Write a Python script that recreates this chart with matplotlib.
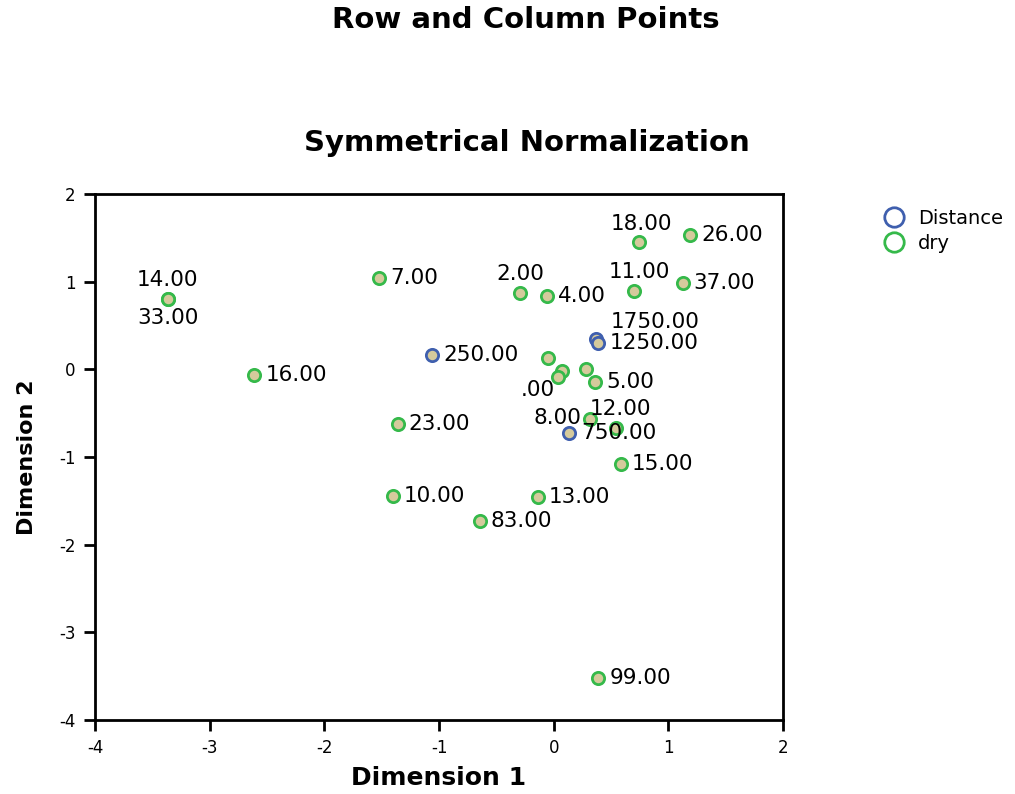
import matplotlib
matplotlib.use("Agg")
import matplotlib.pyplot as plt
from matplotlib.lines import Line2D

plt.rcParams["axes.unicode_minus"] = False

# row points (Distance)
dist_labels = ["250.00", "1750.00", "1250.00", "750.00"]
dist_x = [-1.06, 0.37, 0.39, 0.13]
dist_y = [0.16, 0.35, 0.30, -0.73]

# column points (dry)
dry_labels = ["14.00", "33.00", "7.00", "16.00", "23.00", "10.00", "83.00",
              "13.00", "2.00", "4.00", "18.00", "26.00", "11.00", "37.00",
              "", "", "", ".00", "5.00", "8.00", "12.00", "15.00", "99.00"]
dry_x = [-3.365, -3.365, -1.525, -2.61, -1.36, -1.40, -0.645,
         -0.14, -0.29, -0.06, 0.74, 1.19, 0.70, 1.125,
         -0.05, 0.07, 0.28, 0.035, 0.36, 0.32, 0.54, 0.585, 0.39]
dry_y = [0.80, 0.80, 1.04, -0.07, -0.62, -1.44, -1.73,
         -1.46, 0.87, 0.84, 1.45, 1.53, 0.89, 0.98,
         0.125, -0.02, 0.0, -0.09, -0.14, -0.57, -0.67, -1.08, -3.52]

# label placement: (dx px, dy px, ha); default is to the right
RIGHT = (11, 0, "left")
ABOVE = (0, 19, "center")
place = {
    "14.00": ABOVE, "33.00": (0, -19, "center"), "2.00": ABOVE,
    "18.00": (3, 18, "center"), "11.00": (5, 19, "center"),
    "12.00": (5, 19, "center"), "1750.00": (15, 17, "left"),
    "750.00": (13, 0, "left"), ".00": (-3, -13, "right"),
    "8.00": (-9, 1, "right"),
}

GREEN = "#35b94a"
BLUE = "#3f5fae"
FILL = "#d5ca9c"

fig = plt.figure(figsize=(10.15, 7.94), dpi=100)
ax = fig.add_axes([95 / 1015, 1 - 720 / 794, (783 - 95) / 1015, (720 - 194) / 794])

ax.scatter(dry_x, dry_y, s=78, facecolor=FILL, edgecolor=GREEN, linewidth=2, zorder=3)
ax.scatter(dist_x, dist_y, s=78, facecolor=FILL, edgecolor=BLUE, linewidth=2, zorder=3)

px = 0.72  # points per pixel at dpi 100
for labs, xs, ys in ((dist_labels, dist_x, dist_y), (dry_labels, dry_x, dry_y)):
    for lab, x, y in zip(labs, xs, ys):
        if not lab:
            continue
        dx, dy, ha = place.get(lab, RIGHT)
        ax.annotate(lab, (x, y), xytext=(dx * px, dy * px), textcoords="offset points",
                    ha=ha, va="center", fontsize=15.5, zorder=4)

ax.set_xlim(-4, 2)
ax.set_ylim(-4, 2)
ax.set_xticks(range(-4, 3))
ax.set_yticks(range(-4, 3))
for s in ax.spines.values():
    s.set_linewidth(2)
ax.tick_params(direction="out", length=8, width=2, labelsize=12, pad=6)
ax.set_xlabel("Dimension 1", fontsize=18, fontweight="bold", labelpad=6)
ax.set_ylabel("Dimension 2", fontsize=16, fontweight="bold", labelpad=16)

fig.text(526 / 1015, 1 - 20 / 794, "Row and Column Points", ha="center", va="center",
         fontsize=21, fontweight="bold")
fig.text(527 / 1015, 1 - 143 / 794, "Symmetrical Normalization", ha="center", va="center",
         fontsize=21, fontweight="bold")

handles = [
    Line2D([], [], marker="o", linestyle="none", markersize=14, markerfacecolor="none",
           markeredgecolor=BLUE, markeredgewidth=2, label="Distance"),
    Line2D([], [], marker="o", linestyle="none", markersize=14, markerfacecolor="none",
           markeredgecolor=GREEN, markeredgewidth=2, label="dry"),
]
fig.legend(handles=handles, loc="upper left", bbox_to_anchor=(875 / 1015, 1 - 209 / 794),
           frameon=False, fontsize=14, handletextpad=0.2, labelspacing=0.3,
           borderaxespad=0, borderpad=0)

fig.savefig("out.png", dpi=100)
